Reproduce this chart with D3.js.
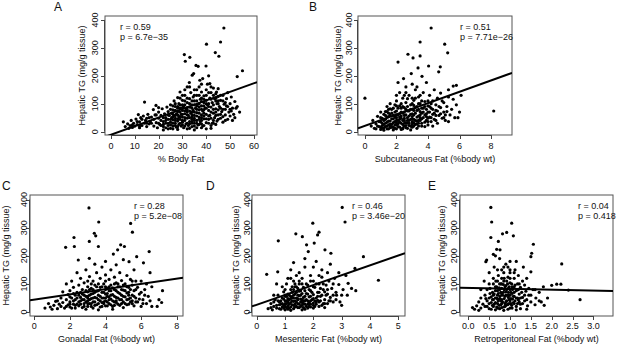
<!DOCTYPE html>
<html>
<head>
<meta charset="utf-8">
<script src="https://cdn.jsdelivr.net/npm/d3@7"></script>
<style>
  body { margin: 0; background: #fff; }
  svg { display: block; font-family: "Liberation Sans", Arial, sans-serif; }
</style>
</head>
<body>
<svg id="chart" width="617" height="344"></svg>
<script>
(function() {

// ---------------- data ----------------

const panelLetters = ["A", "B", "C", "D", "E"];
const xTitles = ["% Body Fat", "Subcutaneous Fat (%body wt)", "Gonadal Fat (%body wt)",
                 "Mesenteric Fat (%body wt)", "Retroperitoneal Fat (%body wt)"];
const yTitle = "Hepatic TG (mg/g tissue)";
const rValues = ["r = 0.59", "r = 0.51", "r = 0.28", "r = 0.46", "r = 0.04"];
const pValues = ["p = 6.7e\u221235", "p = 7.71e\u221226", "p = 5.2e\u221208", "p = 3.46e\u221220", "p = 0.418"];

const xTicks = [
  [0, 10, 20, 30, 40, 50, 60],
  [0, 2, 4, 6, 8],
  [0, 2, 4, 6, 8],
  [0, 1, 2, 3, 4, 5],
  [0, 0.5, 1, 1.5, 2, 2.5, 3]
];
const yTicks = [0, 100, 200, 300, 400];

// regression lines: [intercept, slope]
const fits = [[-11, 3.07], [21, 20.3], [44, 9.3], [26, 35], [86, -3.3]];

const bodyFat = [
  [5.2,35],[6,18],[7,28],[7.5,12],[8,22],[8.5,40],[9,15],[9.5,30],[10,20],[10.5,45],[11,25],[11.5,61],
  [12,14],[12,35],[12.5,50],[13,22],[13.6,56],[14,30],[14.1,106],[14.5,40],[15,18],[15,48],[15.5,62],
  [16,28],[16.5,36],[17,52],[17.8,79],[18,20],[18,44],[18.5,60],[18.9,94],[19,32],[19.5,14],[20,48],
  [20,70],[20.5,26],[21,40],[21,58],[21.5,82],[22,18],[22,36],[22.5,64],[23,30],[23,50],[23.5,88],
  [24,22],[24,44],[24,72],[24.5,58],[25,12],[25,34],[25,96],[25.5,50],[25.5,66],[26,20],[26,42],[26,78],
  [26.5,58],[26.5,110],[27,30],[27,48],[27,90],[27.5,16],[27.5,64],[28,38],[28,72],[28,122],[28.5,26],
  [28.5,54],[28.5,100],[29,44],[29,84],[29,142],[29.5,20],[29.5,62],[30,34],[30,52],[30,76],[30,112],
  [30.5,14],[30.5,90],[30.8,276],[31,40],[31,64],[31,130],[31.2,252],[31.5,28],[31.5,82],[32,48],
  [32,70],[32,104],[32,160],[32.5,22],[32.5,58],[32.9,176],[33,36],[33,88],[33,118],[33.1,266],
  [33.5,66],[33.5,140],[34,18],[34,44],[34,96],[34.1,202],[34.5,76],[34.5,124],[34.7,208],[35,30],
  [35,58],[35,110],[35,150],[35.5,84],[35.7,237],[36,40],[36,68],[36,130],[36.5,24],[36.5,98],
  [36.6,234],[37,52],[37,78],[37,160],[37.3,184],[37.5,36],[37.5,116],[38,60],[38,92],[38,142],
  [38.5,20],[38.5,74],[38.5,190],[39,46],[39,104],[39,128],[39.5,84],[39.9,235],[40,32],[40,62],
  [40,112],[40,150],[40.1,313],[40.5,96],[40.5,170],[41,44],[41,76],[41,200],[41.5,58],[41.5,120],
  [41.5,172],[42,88],[42,140],[42.5,30],[42.5,104],[43,66],[43,156],[43.5,50],[43.5,118],[43.8,283],
  [44,82],[44,136],[44.3,142],[44.5,38],[44.5,100],[45,60],[45,154],[45,126],[45.3,270],[45.5,90],
  [46,321],[46,48],[46,112],[46.5,72],[47,34],[47,130],[47.4,371],[47.5,98],[48,60],[48,80],[48.5,118],
  [49,44],[49,140],[49.5,70],[50,56],[50,100],[50.5,124],[51,40],[51,84],[51.5,62],[52,108],[52,50],
  [53,197],[53,90],[54,70],[55.2,218],[44,58],[42,22],[38,28],[36,14],[33,12],[30,24],[29,70],[27,100],
  [31,150],[34,60],[37,88],[39,66],[41,100],[43,40],[45,78],[35,40],[32,86],[26,62],[22,6],[28,8],
  [35,6],[40,10],[48.5,92],[50.5,74],[52.5,84],[47,110],[36,110],[38,50],[34,30],[30,96],[28,60],
  [20,30],[21,22],[22,50],[23,40],[23,14],[24,30],[24,60],[25,24],[25,44],[25,80],[26,30],[26,52],
  [26,92],[27,22],[27,40],[27,58],[27,76],[28,18],[28,46],[28,84],[28,90],[29,30],[29,54],[29,96],
  [29,120],[30,40],[30,62],[30,86],[30,130],[31,20],[31,50],[31,74],[31,96],[31,110],[32,30],[32,60],
  [32,78],[32,120],[33,28],[33,50],[33,74],[33,100],[33,160],[34,36],[34,52],[34,70],[34,84],[34,110],
  [35,20],[35,48],[35,70],[35,96],[35,130],[36,30],[36,56],[36,80],[36,92],[36,150],[37,26],[37,44],
  [37,66],[37,100],[37,130],[38,40],[38,80],[38,108],[38,120],[38,170],[39,22],[39,56],[39,78],[39,92],
  [39,116],[40,46],[40,84],[40,100],[40,130],[41,30],[41,56],[41,90],[41,140],[42,48],[42,70],[42,116],
  [42,160],[43,30],[43,80],[43,96],[43,130],[44,26],[44,70],[44,110],[44,120],[45,44],[45,100],[45,110],
  [46,62],[46,84],[46,130],[47,54],[47,80],[48,40],[48,104],[49,90],[50,80],[24,10],[26,10],[32,10],
  [38,14],[42,12],[19,60],[17,30],[15,30],[13,44],[11,36],[9,24],[12,20],[16,50],[20,86],[22,26]
];

const subcutFat = [
  [0,120],[0.4,20],[0.5,40],[0.6,12],[0.7,28],[0.8,55],[0.9,18],[1,35],[1,8],[1.1,48],[1.1,22],[1.2,62],
  [1.2,14],[1.3,30],[1.3,44],[1.4,20],[1.4,72],[1.5,10],[1.5,38],[1.5,54],[1.6,26],[1.6,100],[1.7,16],
  [1.7,46],[1.7,66],[1.8,32],[1.8,84],[1.9,12],[1.9,52],[2,24],[2,40],[2,74],[2,110],[2.1,249],[2.1,18],
  [2.1,60],[2.2,34],[2.2,92],[2.2,140],[2.3,8],[2.3,48],[2.3,70],[2.4,26],[2.4,120],[2.45,190],[2.5,40],
  [2.5,58],[2.5,86],[2.6,14],[2.6,32],[2.6,104],[2.6,160],[2.7,50],[2.7,74],[2.73,277],[2.8,22],[2.8,40],
  [2.8,130],[2.9,62],[2.9,96],[2.94,208],[3,16],[3,34],[3,54],[3,80],[3,170],[3.05,264],[3.1,44],
  [3.1,112],[3.2,26],[3.2,66],[3.2,150],[3.3,38],[3.3,90],[3.37,228],[3.4,20],[3.4,56],[3.4,124],
  [3.5,321],[3.5,271],[3.5,72],[3.5,100],[3.6,30],[3.6,46],[3.62,198],[3.7,84],[3.7,140],[3.8,60],
  [3.8,108],[3.9,40],[3.9,176],[4,24],[4,70],[4,92],[4.04,235],[4.1,52],[4.1,130],[4.2,371],[4.2,36],
  [4.2,84],[4.3,110],[4.3,62],[4.4,44],[4.4,150],[4.5,76],[4.5,96],[4.6,30],[4.6,120],[4.68,214],
  [4.7,58],[4.78,232],[4.8,86],[4.8,138],[4.9,48],[5,70],[5,104],[5.06,313],[5.1,40],[5.2,90],
  [5.25,282],[5.3,124],[5.4,60],[5.5,80],[5.6,116],[5.7,50],[5.8,96],[6,70],[6.1,130],[8.17,74],
  [1.2,5],[1.8,6],[2.4,10],[2.9,6],[3.3,12],[3.8,18],[4.3,20],[1.6,82],[2,92],[2.7,118],[3.1,94],
  [3.6,66],[4,48],[4.5,58],[1,70],[1.4,90],[2.3,100],[3.3,160],[2.1,176],[2.5,130],[4.9,110],[5.3,36],
  [5.9,50],[5.6,163],[5.8,166],[5.3,150],[1.3,58],[1.9,36],[2.2,52],[2.7,30],[3.1,20],[3.4,40],
  [3.9,64],[4.2,100],[4.6,74],[5.1,60],[1.1,30],[1.6,14],[2,60],[2.5,20],[3,44],[3.5,50],
  [0.7,10],[0.8,20],[0.9,36],[1,16],[1,50],[1.1,12],[1.2,26],[1.2,40],[1.3,18],[1.3,72],[1.4,10],
  [1.4,34],[1.4,52],[1.5,24],[1.5,66],[1.6,18],[1.6,38],[1.6,60],[1.7,26],[1.7,80],[1.8,16],[1.8,46],
  [1.8,58],[1.9,24],[1.9,70],[1.9,96],[2,10],[2,32],[2,50],[2.1,28],[2.1,40],[2.1,84],[2.2,16],[2.2,44],
  [2.2,64],[2.3,30],[2.3,56],[2.3,84],[2.4,14],[2.4,40],[2.4,66],[2.4,90],[2.5,30],[2.5,48],[2.5,70],
  [2.6,22],[2.6,60],[2.6,80],[2.7,12],[2.7,40],[2.7,90],[2.8,30],[2.8,56],[2.8,74],[2.9,20],[2.9,44],
  [2.9,80],[3,26],[3,64],[3,100],[3.1,32],[3.1,60],[3.1,76],[3.2,40],[3.2,86],[3.2,120],[3.3,28],
  [3.3,52],[3.3,76],[3.4,30],[3.4,80],[3.4,100],[3.5,40],[3.5,60],[3.5,130],[3.6,20],[3.6,84],[3.6,110],
  [3.7,50],[3.7,70],[3.8,34],[3.8,90],[3.9,54],[3.9,80],[4,36],[4,110],[4.1,70],[4.1,90],[4.2,50],
  [4.3,80],[4.4,66],[4.5,40],[4.7,90],[4.8,64],[5,50],[5.2,72],[1.5,80],[2,130],[2.6,140],[3,120]
];

const gonadalFat = [
  [0.6,14],[0.8,30],[0.9,18],[1,10],[1.1,24],[1.2,38],[1.3,12],[1.4,28],[1.5,20],[1.5,50],[1.6,34],
  [1.7,14],[1.76,230],[1.8,44],[1.8,100],[1.9,26],[1.9,62],[2,18],[2,36],[2,76],[2.1,50],[2.1,110],
  [2.2,28],[2.2,88],[2.23,265],[2.25,233],[2.3,14],[2.3,44],[2.3,60],[2.4,70],[2.4,140],[2.47,185],
  [2.5,22],[2.5,36],[2.5,96],[2.6,52],[2.6,120],[2.7,16],[2.7,64],[2.7,80],[2.8,30],[2.8,44],[2.8,104],
  [2.9,56],[2.9,150],[3,20],[3,40],[3,72],[3,90],[3.07,370],[3.09,191],[3.09,251],[3.1,30],[3.1,60],
  [3.1,126],[3.2,48],[3.2,84],[3.3,14],[3.3,36],[3.3,66],[3.3,110],[3.37,280],[3.4,52],[3.4,96],
  [3.4,170],[3.45,271],[3.5,26],[3.5,74],[3.5,140],[3.6,44],[3.6,60],[3.6,233],[3.62,320],[3.7,18],
  [3.7,88],[3.7,120],[3.8,34],[3.8,70],[3.8,160],[3.9,50],[3.9,100],[4,22],[4,40],[4,64],[4,132],
  [4,180],[4.1,56],[4.1,84],[4.2,30],[4.2,76],[4.2,116],[4.3,46],[4.3,96],[4.3,150],[4.4,20],[4.4,62],
  [4.44,206],[4.5,36],[4.5,80],[4.5,124],[4.6,52],[4.6,104],[4.6,168],[4.68,221],[4.7,28],[4.7,70],
  [4.8,44],[4.8,90],[4.8,140],[4.85,239],[4.9,60],[4.9,112],[5,16],[5,36],[5,78],[5,186],[5.06,233],
  [5.1,54],[5.1,100],[5.2,26],[5.2,68],[5.2,130],[5.3,46],[5.3,88],[5.32,179],[5.4,36],[5.4,116],
  [5.41,315],[5.5,60],[5.5,96],[5.51,284],[5.6,22],[5.6,76],[5.6,150],[5.7,50],[5.75,197],[5.8,36],
  [5.8,88],[5.9,64],[6,20],[6,110],[6.1,44],[6.13,175],[6.2,80],[6.3,30],[6.4,56],[6.45,215],[6.5,40],
  [6.6,90],[6.9,20],[7.15,34],[7.2,76],[2.9,10],[3.6,8],[4.4,10],[1.6,72],[2,54],[3.4,24],[4.1,22],
  [4.9,30],[5.7,110],[6.5,140],[2.6,40],[3.2,30],[3.9,36],[4.6,40],[5.3,60],[3.6,100],[4.2,54],
  [2.4,28],[3,56],[4,90],[4.7,100],[5.5,40],[6.2,60],[1.3,40],[2.2,66],[3.8,50],
  [1.8,20],[2,28],[2.1,14],[2.2,40],[2.3,24],[2.4,50],[2.5,60],[2.6,28],[2.6,70],[2.7,44],[2.8,20],
  [2.8,60],[2.9,36],[2.9,76],[3,30],[3,50],[3,110],[3.1,44],[3.1,80],[3.2,20],[3.2,64],[3.2,100],
  [3.3,50],[3.3,80],[3.4,36],[3.4,70],[3.5,50],[3.5,90],[3.6,30],[3.6,76],[3.7,40],[3.7,56],[3.8,20],
  [3.8,90],[3.9,30],[3.9,70],[4,50],[4,80],[4,110],[4.1,36],[4.1,66],[4.2,44],[4.2,90],[4.3,26],
  [4.3,60],[4.3,76],[4.4,40],[4.4,86],[4.5,24],[4.5,56],[4.5,100],[4.6,34],[4.6,76],[4.7,50],[4.7,90],
  [4.8,24],[4.8,66],[4.9,44],[4.9,80],[5,56],[5,96],[5.1,30],[5.1,76],[5.2,44],[5.2,90],[5.3,28],
  [5.3,70],[5.4,50],[5.4,80],[5.5,30],[5.5,110],[5.6,56],[5.7,36],[5.7,80],[5.9,46],[6,70],[6.1,30],
  [6.3,100],[6.6,20],[7,44]
];

const mesenteryFat = [
  [0.35,134],[0.4,12],[0.5,30],[0.55,8],[0.6,20],[0.65,44],[0.7,14],[0.74,143],[0.76,253],[0.75,60],
  [0.8,26],[0.8,36],[0.85,10],[0.9,50],[0.9,18],[0.95,72],[1,30],[1,40],[1,8],[1.05,56],[1.05,100],
  [1.1,22],[1.1,64],[1.15,14],[1.15,44],[1.2,34],[1.2,80],[1.2,150],[1.25,26],[1.25,52],[1.3,12],
  [1.3,60],[1.3,110],[1.35,40],[1.35,90],[1.38,278],[1.4,20],[1.4,70],[1.4,130],[1.45,48],[1.45,30],
  [1.5,16],[1.5,58],[1.5,100],[1.55,36],[1.55,76],[1.6,24],[1.6,120],[1.61,268],[1.65,52],[1.65,88],
  [1.7,10],[1.7,40],[1.7,160],[1.75,66],[1.76,239],[1.8,28],[1.8,96],[1.82,215],[1.85,54],[1.9,18],
  [1.9,76],[1.9,130],[1.95,44],[1.98,316],[2,32],[2,62],[2,110],[2.03,245],[2.05,20],[2.05,88],
  [2.1,50],[2.1,180],[2.15,274],[2.15,70],[2.2,284],[2.2,36],[2.2,100],[2.25,56],[2.3,24],[2.3,124],
  [2.35,80],[2.4,44],[2.41,221],[2.45,96],[2.5,30],[2.5,64],[2.5,140],[2.55,110],[2.6,52],[2.62,209],
  [2.65,84],[2.7,36],[2.75,120],[2.8,70],[2.82,60],[2.9,98],[2.94,36],[3,24],[3.02,372],[3.05,80],
  [3.12,320],[3.15,130],[3.23,102],[3.35,84],[3.47,155],[3.5,76],[3.77,197],[4.3,113],[0.9,90],
  [1.1,120],[1.3,176],[1.5,140],[1.7,190],[2,160],[2.3,150],[2.6,170],[1.2,6],[1.6,8],[2,14],[2.4,16],
  [0.7,100],[1,80],[1.3,38],[1.55,46],[1.85,34],[2.15,42],[2.45,60],[1.15,28],[1.45,60],[1.75,20],
  [2.7,100],[3.2,60],[2.9,140],[0.95,24],[1.05,16],[1.25,70],[1.35,18],[1.45,84],[1.6,44],[1.7,56],
  [1.8,14],[1.9,40],[2.1,28],[2.25,84],[2.4,72],[0.85,40],[1,56],[1.2,48],[1.4,50],[1.65,30],
  [2,48],[2.35,30],[2.55,40],[1.35,100],[1.1,36],[0.6,60],
  [0.5,16],[0.6,36],[0.7,24],[0.75,40],[0.8,12],[0.85,28],[0.9,30],[0.95,14],[0.95,46],[1,20],[1,60],
  [1.05,30],[1.05,40],[1.1,10],[1.1,48],[1.15,60],[1.2,18],[1.2,56],[1.25,40],[1.25,90],[1.3,24],
  [1.3,50],[1.35,28],[1.35,64],[1.4,36],[1.4,90],[1.45,16],[1.45,44],[1.5,28],[1.5,74],[1.55,20],
  [1.55,60],[1.6,34],[1.6,66],[1.65,16],[1.65,40],[1.7,28],[1.7,76],[1.75,44],[1.75,100],[1.8,40],
  [1.8,64],[1.85,20],[1.85,80],[1.9,28],[1.9,56],[1.95,70],[2,24],[2,90],[2.05,40],[2.1,36],[2.1,100],
  [2.15,56],[2.2,20],[2.2,70],[2.25,40],[2.3,60],[2.35,100],[2.4,30],[2.5,80],[2.6,40],[2.7,60],
  [2.8,44],[3,60],[1.3,80],[1.6,100],[1.9,110],[1.2,120],[1.5,110],[2.2,130]
];

const retroFat = [
  [0.1,16],[0.15,10],[0.2,22],[0.25,6],[0.25,36],[0.3,14],[0.3,50],[0.35,28],[0.38,110],[0.4,20],
  [0.4,60],[0.42,179],[0.44,185],[0.45,40],[0.45,80],[0.5,12],[0.5,30],[0.5,100],[0.5,140],[0.54,265],
  [0.54,372],[0.55,54],[0.56,320],[0.58,70],[0.6,20],[0.6,44],[0.6,120],[0.6,205],[0.62,160],[0.65,34],
  [0.65,90],[0.68,223],[0.7,14],[0.7,60],[0.7,76],[0.72,251],[0.72,130],[0.75,48],[0.75,100],
  [0.76,221],[0.78,26],[0.8,64],[0.8,84],[0.8,150],[0.82,278],[0.82,36],[0.85,18],[0.85,110],
  [0.88,56],[0.9,72],[0.9,94],[0.9,170],[0.92,283],[0.92,40],[0.95,28],[0.95,124],[0.98,60],[1,14],
  [1,80],[1,104],[1,140],[1.02,48],[1.04,316],[1.05,66],[1.05,90],[1.08,271],[1.08,34],[1.1,120],
  [1.1,56],[1.12,150],[1.15,20],[1.15,76],[1.18,100],[1.2,44],[1.2,130],[1.22,64],[1.25,28],[1.25,88],
  [1.3,52],[1.3,110],[1.32,160],[1.35,40],[1.38,74],[1.4,120],[1.42,22],[1.45,60],[1.5,143],[1.5,197],
  [1.5,36],[1.52,209],[1.55,80],[1.56,241],[1.6,26],[1.62,50],[1.7,70],[1.75,36],[1.8,90],[1.82,24],
  [1.9,50],[2,95],[2.12,99],[2.22,99],[2.24,171],[2.4,78],[2.68,44],[0.3,80],[0.55,10],[0.65,8],
  [0.75,12],[0.85,6],[0.95,10],[1.05,14],[1.15,8],[1.25,12],[1.4,10],[0.6,100],[0.7,110],[0.8,120],
  [0.85,140],[0.95,160],[1,180],[0.75,190],[0.65,200],[1.15,180],[0.88,30],[0.98,44],[0.72,40],
  [0.62,64],[1.12,40],[1.28,70],[1.35,96],[1.45,84],[0.52,84],[0.42,48],[0.68,50],[0.78,70],[0.86,80],
  [0.94,60],[1.02,30],[1.1,90],[1.18,50],[0.58,24],[0.66,110],[0.74,86],[0.84,98],[0.96,84],[1.06,46],
  [1.22,36],[0.9,24],[0.8,44],
  [0.45,20],[0.5,50],[0.52,66],[0.55,34],[0.58,44],[0.6,60],[0.62,28],[0.65,50],[0.65,76],[0.68,18],
  [0.68,90],[0.7,30],[0.7,46],[0.72,66],[0.74,24],[0.75,80],[0.76,56],[0.78,40],[0.78,100],[0.8,16],
  [0.8,30],[0.8,100],[0.82,60],[0.84,70],[0.86,48],[0.86,120],[0.88,20],[0.88,90],[0.9,36],[0.9,60],
  [0.92,80],[0.92,110],[0.94,26],[0.94,100],[0.96,52],[0.96,70],[0.98,30],[0.98,90],[1,40],[1,60],
  [1,120],[1.02,70],[1.04,24],[1.04,100],[1.06,80],[1.08,56],[1.1,30],[1.1,70],[1.12,96],[1.15,50],
  [1.18,30],[1.2,80],[1.22,100],[1.25,50],[1.3,30],[1.35,60],[1.4,44],[1.5,60],[1.6,80],[1.7,40],
  [0.7,150],[0.85,160],[1,150],[1.1,140]
];

const series = [bodyFat, subcutFat, gonadalFat, mesenteryFat, retroFat];

// ---------------- layout ----------------

// box = [left, top, right, bottom] of each plot frame
const layout = [
  { box: [105, 16, 257, 135], xlim: [-2.5, 61.3], ylim: [-12, 414], yTickX: 94.5, yTitleX: 82,
    xTickY: 149, xTitleY: 161.5, letter: [54, 11], stat: [120, 30] },
  { box: [358, 16, 512, 135], xlim: [-0.44, 9.33], ylim: [-12, 414], yTickX: 348.5, yTitleX: 338,
    xTickY: 149, xTitleY: 161.5, letter: [309, 11], stat: [460, 30] },
  { box: [30, 195, 183, 316], xlim: [-0.24, 8.35], ylim: [-14, 416], yTickX: 23.5, yTitleX: 6,
    xTickY: 328.5, xTitleY: 341.5, letter: [2, 190], stat: [134, 209] },
  { box: [252, 195, 405, 316], xlim: [-0.17, 5.24], ylim: [-14, 416], yTickX: 247, yTitleX: 236,
    xTickY: 328.5, xTitleY: 341.5, letter: [206, 190], stat: [352, 209] },
  { box: [460, 195, 613, 316], xlim: [-0.2, 3.47], ylim: [-14, 416], yTickX: 453.5, yTitleX: 442,
    xTickY: 328.5, xTitleY: 341.5, letter: [428, 190], stat: [578, 209] }
];

const ink = "#111";
const svg = d3.select("#chart");

layout.forEach((L, i) => {
  const [x0, y0, x1, y1] = L.box;
  const x = d3.scaleLinear().domain(L.xlim).range([x0, x1]);
  const y = d3.scaleLinear().domain(L.ylim).range([y1, y0]);
  const g = svg.append("g");

  g.append("clipPath").attr("id", "clip" + i)
    .append("rect").attr("x", x0).attr("y", y0).attr("width", x1 - x0).attr("height", y1 - y0);

  // frame
  g.append("rect")
    .attr("x", x0).attr("y", y0).attr("width", x1 - x0).attr("height", y1 - y0)
    .attr("fill", "none").attr("stroke", "#555").attr("stroke-width", 1);

  // x axis (R style: line between first and last tick, ticks outward)
  const xt = xTicks[i];
  g.append("line")
    .attr("x1", x(xt[0])).attr("x2", x(xt[xt.length - 1]))
    .attr("y1", y1 + 0.5).attr("y2", y1 + 0.5)
    .attr("stroke", "#444");
  g.selectAll("line.xtick").data(xt).join("line")
    .attr("class", "xtick")
    .attr("x1", d => Math.round(x(d)) + 0.5).attr("x2", d => Math.round(x(d)) + 0.5)
    .attr("y1", y1).attr("y2", y1 + 4)
    .attr("stroke", "#444");
  g.selectAll("text.xlab").data(xt).join("text")
    .attr("class", "xlab")
    .attr("x", d => x(d)).attr("y", L.xTickY)
    .attr("text-anchor", "middle").attr("font-size", 9).attr("fill", ink)
    .text(d => i === 4 ? d.toFixed(1) : d);

  // y axis
  g.append("line")
    .attr("x1", x0 - 0.5).attr("x2", x0 - 0.5)
    .attr("y1", y(yTicks[0])).attr("y2", y(yTicks[yTicks.length - 1]))
    .attr("stroke", "#444");
  g.selectAll("line.ytick").data(yTicks).join("line")
    .attr("class", "ytick")
    .attr("x1", x0 - 4).attr("x2", x0)
    .attr("y1", d => Math.round(y(d)) + 0.5).attr("y2", d => Math.round(y(d)) + 0.5)
    .attr("stroke", "#444");
  g.selectAll("text.ylab").data(yTicks).join("text")
    .attr("class", "ylab")
    .attr("transform", d => `translate(${L.yTickX},${y(d)}) rotate(-90)`)
    .attr("dy", "0.35em")
    .attr("text-anchor", "middle").attr("font-size", 9).attr("fill", ink)
    .text(d => d);

  // axis titles
  g.append("text")
    .attr("x", (x0 + x1) / 2).attr("y", L.xTitleY)
    .attr("text-anchor", "middle").attr("font-size", 9).attr("fill", ink)
    .text(xTitles[i]);
  g.append("text")
    .attr("transform", `translate(${L.yTitleX},${(y0 + y1) / 2}) rotate(-90)`)
    .attr("dy", "0.35em")
    .attr("text-anchor", "middle").attr("font-size", 9).attr("fill", ink)
    .text(yTitle);

  // panel letter
  g.append("text")
    .attr("x", L.letter[0]).attr("y", L.letter[1])
    .attr("font-size", 12).attr("fill", ink)
    .text(panelLetters[i]);

  // points
  const plot = g.append("g").attr("clip-path", `url(#clip${i})`);
  plot.selectAll("circle").data(series[i]).join("circle")
    .attr("cx", d => x(d[0])).attr("cy", d => y(d[1]))
    .attr("r", 1.6).attr("fill", "#000");

  // regression line
  const [b0, b1] = fits[i];
  plot.append("path")
    .datum(L.xlim)
    .attr("d", d3.line().x(d => x(d)).y(d => y(b0 + b1 * d)))
    .attr("stroke", "#000").attr("stroke-width", 2).attr("fill", "none");

  // stats
  g.append("text")
    .attr("x", L.stat[0]).attr("y", L.stat[1])
    .attr("font-size", 9).attr("fill", ink)
    .text(rValues[i]);
  g.append("text")
    .attr("x", L.stat[0]).attr("y", L.stat[1] + 10)
    .attr("font-size", 9).attr("fill", ink)
    .text(pValues[i]);
});

})();
</script>
</body>
</html>
